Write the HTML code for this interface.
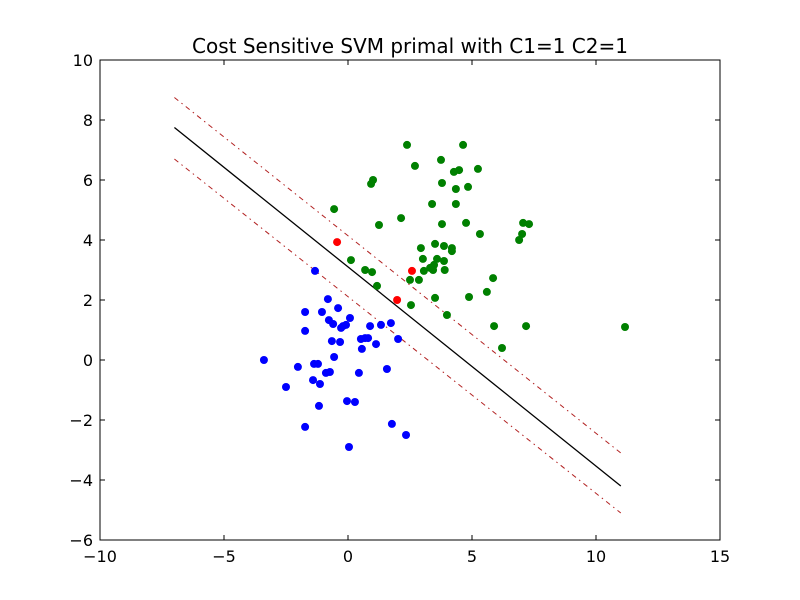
<!DOCTYPE html>
<html><head><meta charset="utf-8"><style>
body{margin:0;background:#fff}
svg{display:block;font-family:"DejaVu Sans","Liberation Sans",sans-serif}
</style></head><body>
<svg id="chart" width="800" height="600">
<rect width="800" height="600" fill="#fff"/>
<text x="410" y="53" text-anchor="middle" font-size="20">Cost Sensitive SVM primal with C1=1 C2=1</text>
<g id="plot"></g>
<rect x="100" y="60" width="620" height="480" fill="none" stroke="#000" stroke-width="1"/>
</svg>
<script>
const xTicks=[-10,-5,0,5,10,15];
const yTicks=[-6,-4,-2,0,2,4,6,8,10];
const blueX=[-3.39,-2.5,-2.02,-1.73,-1.73,-1.73,-1.41,-1.37,-1.21,-1.17,-1.13,-1.05,-0.89,-0.81,-0.77,-0.73,-0.65,-0.6,-0.56,-0.4,-0.32,-0.28,-0.2,-0.08,-0.04,0.08,0.04,0.28,0.44,0.52,0.56,0.69,0.81,0.89,1.13,1.33,1.57,1.73,1.77,2.02,2.34,-1.33];
const blueY=[0,-0.9,-0.23,1.6,0.97,-2.23,-0.67,-0.13,-0.13,-1.53,-0.8,1.6,-0.43,2.03,1.33,-0.4,0.63,1.2,0.1,1.73,0.6,1.07,1.13,1.17,-1.37,1.4,-2.9,-1.4,-0.43,0.7,0.37,0.73,0.73,1.13,0.53,1.17,-0.3,1.23,-2.13,0.7,-2.5,2.97];
const greenX=[-0.56,0.12,0.69,0.97,1.17,0.93,1.01,1.25,2.14,2.38,2.7,2.5,2.54,2.86,2.94,3.02,3.06,3.31,3.39,3.43,3.47,3.51,3.51,3.59,3.9,3.75,3.79,3.79,3.87,3.87,3.99,4.19,4.19,4.27,4.35,4.35,4.48,4.64,4.76,4.84,4.88,5.24,5.32,5.6,5.85,5.89,6.21,6.9,7.02,7.06,7.3,7.18,11.17];
const greenY=[5.03,3.33,3.0,2.93,2.47,5.87,6.0,4.5,4.73,7.17,6.47,2.67,1.83,2.67,3.73,3.37,2.97,3.07,5.2,3.0,3.17,2.07,3.87,3.37,3.0,6.67,5.9,4.53,3.8,3.3,1.5,3.63,3.73,6.27,5.7,5.2,6.33,7.17,4.57,5.77,2.1,6.37,4.2,2.27,2.73,1.13,0.4,4.0,4.2,4.57,4.53,1.13,1.1];
const redX=[-0.44,1.98,2.58];
const redY=[3.93,2.0,2.97];
const lineX=[-7,11];
const solidY=[7.75,-4.2];
const upperY=[8.75,-3.1];
const lowerY=[6.7,-5.1];

const NS="http://www.w3.org/2000/svg";
const X0=100,X1=720,Y0=540,Y1=60;
const sx=v=>X0+(v-(-10))/25*(X1-X0);
const sy=v=>Y0-(v-(-6))/16*(Y0-Y1);
const g=document.getElementById('plot');
function mk(t,a,p){const e=document.createElementNS(NS,t);for(const k in a)e.setAttribute(k,a[k]);(p||g).appendChild(e);return e;}

xTicks.forEach(t=>{
  const x=sx(t);
  const a=mk('line',{x1:x,x2:x,y1:Y0,y2:Y0-5,stroke:'#000'});
  
  
  mk('line',{x1:x,x2:x,y1:Y1,y2:Y1+5,stroke:'#000'});
  const l=mk('text',{x:x,y:Y0+22,'text-anchor':'middle','font-size':16});
  l.textContent=t<0?'\u2212'+(-t):String(t);
  
  
});
yTicks.forEach(t=>{
  const y=sy(t);
  const a=mk('line',{x1:X0,x2:X0+5,y1:y,y2:y,stroke:'#000'});
  
  
  mk('line',{x1:X1,x2:X1-5,y1:y,y2:y,stroke:'#000'});
  const l=mk('text',{x:X0-7,y:y+6,'text-anchor':'end','font-size':16});
  l.textContent=t<0?'\u2212'+(-t):String(t);
  
  
});

const up=mk('line',{x1:sx(lineX[0]),y1:sy(upperY[0]),x2:sx(lineX[1]),y2:sy(upperY[1]),stroke:'#b22222','stroke-dasharray':'5,4,1.5,4'});


const lo=mk('line',{x1:sx(lineX[0]),y1:sy(lowerY[0]),x2:sx(lineX[1]),y2:sy(lowerY[1]),stroke:'#b22222','stroke-dasharray':'5,4,1.5,4'});


const so=mk('line',{x1:sx(lineX[0]),y1:sy(solidY[0]),x2:sx(lineX[1]),y2:sy(solidY[1]),stroke:'#000','stroke-width':1.3});



function pts(xs,ys,col,name){
  xs.forEach((x,i)=>{
    const c=mk('circle',{cx:sx(x),cy:sy(ys[i]),r:4,fill:col});
    
    
  });
}
pts(blueX,blueY,'#0000ff','blue-point');
pts(greenX,greenY,'#008000','green-point');
pts(redX,redY,'#ff0000','support-vector-point');
</script>
</body></html>
